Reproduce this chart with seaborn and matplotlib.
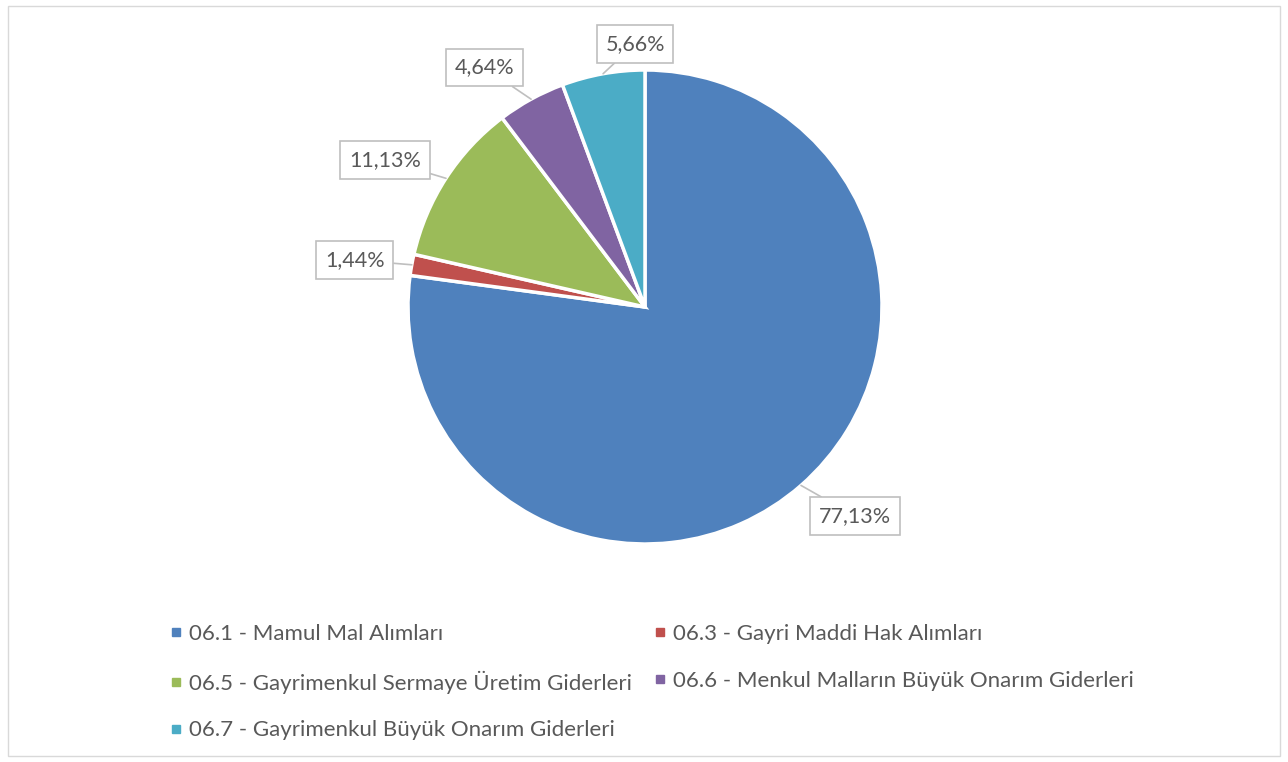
import matplotlib
matplotlib.use("Agg")
import matplotlib.pyplot as plt
import seaborn as sns
import numpy as np
from matplotlib.patches import Rectangle

categories = ["06.1 - Mamul Mal Alımları",
              "06.3 - Gayri Maddi Hak Alımları",
              "06.5 - Gayrimenkul Sermaye Üretim Giderleri",
              "06.6 - Menkul Malların Büyük Onarım Giderleri",
              "06.7 - Gayrimenkul Büyük Onarım Giderleri"]
values = [77.13, 1.44, 11.13, 4.64, 5.66]
labels = ["77,13%", "1,44%", "11,13%", "4,64%", "5,66%"]
colors = sns.color_palette(["#4F81BD", "#C0504D", "#9BBB59", "#8064A2", "#4BACC6"])

sns.set_theme(style="white")
plt.rcParams['font.family'] = ['Lato', 'DejaVu Sans']

fig = plt.figure(figsize=(12.88, 7.62), dpi=100)
W, H = 1288, 762
cx, cy, r = 645, 307, 237
ax = fig.add_axes([(cx - r) / W, (H - cy - r) / H, 2 * r / W, 2 * r / H])
wedges, _ = ax.pie(values, colors=colors, startangle=90, counterclock=False,
                   radius=1, wedgeprops=dict(edgecolor="white", linewidth=2.5))
ax.set_xlim(-1, 1)
ax.set_ylim(-1, 1)
ax.set_aspect("equal")
ax.axis("off")

# label box positions (data coords)
label_pos = [(0.886, -0.882), (-1.224, 0.198), (-1.097, 0.620), (-0.679, 1.011), (-0.042, 1.110)]
cum = np.cumsum([0] + values[:-1])
for i, (w, lab) in enumerate(zip(wedges, labels)):
    mid = 90 - (cum[i] + values[i] / 2) / 100 * 360
    a = np.deg2rad(mid)
    px, py = np.cos(a) * 1.0, np.sin(a) * 1.0
    ax.annotate(lab, xy=(px, py), xytext=label_pos[i], ha="center", va="center",
                fontsize=15.5, color="#595959", annotation_clip=False,
                bbox=dict(boxstyle="square,pad=0.4", fc="white", ec="#BFBFBF", lw=1.2),
                arrowprops=dict(arrowstyle="-", color="#BFBFBF", lw=1.2,
                                shrinkA=0, shrinkB=0))

order = [0, 2, 4, 1, 3]
handles = [plt.Line2D([], [], marker="s", linestyle="", markersize=6,
                      markerfacecolor=colors[i], markeredgecolor=colors[i]) for i in order]
leg = fig.legend(handles, [categories[i] for i in order], ncol=2,
                 loc="upper left", bbox_to_anchor=(170 / W, 1 - 624 / H),
                 frameon=False, fontsize=16, labelcolor="#595959",
                 handlelength=0.5, handletextpad=0.35, columnspacing=1.0,
                 labelspacing=1.2, borderpad=0, borderaxespad=0)

fig.patches.append(Rectangle((8 / W, 6 / H), 1272 / W, 750 / H, transform=fig.transFigure,
                             fill=False, edgecolor="#D9D9D9", lw=1))

fig.savefig("out.png", dpi=100, facecolor="white")
